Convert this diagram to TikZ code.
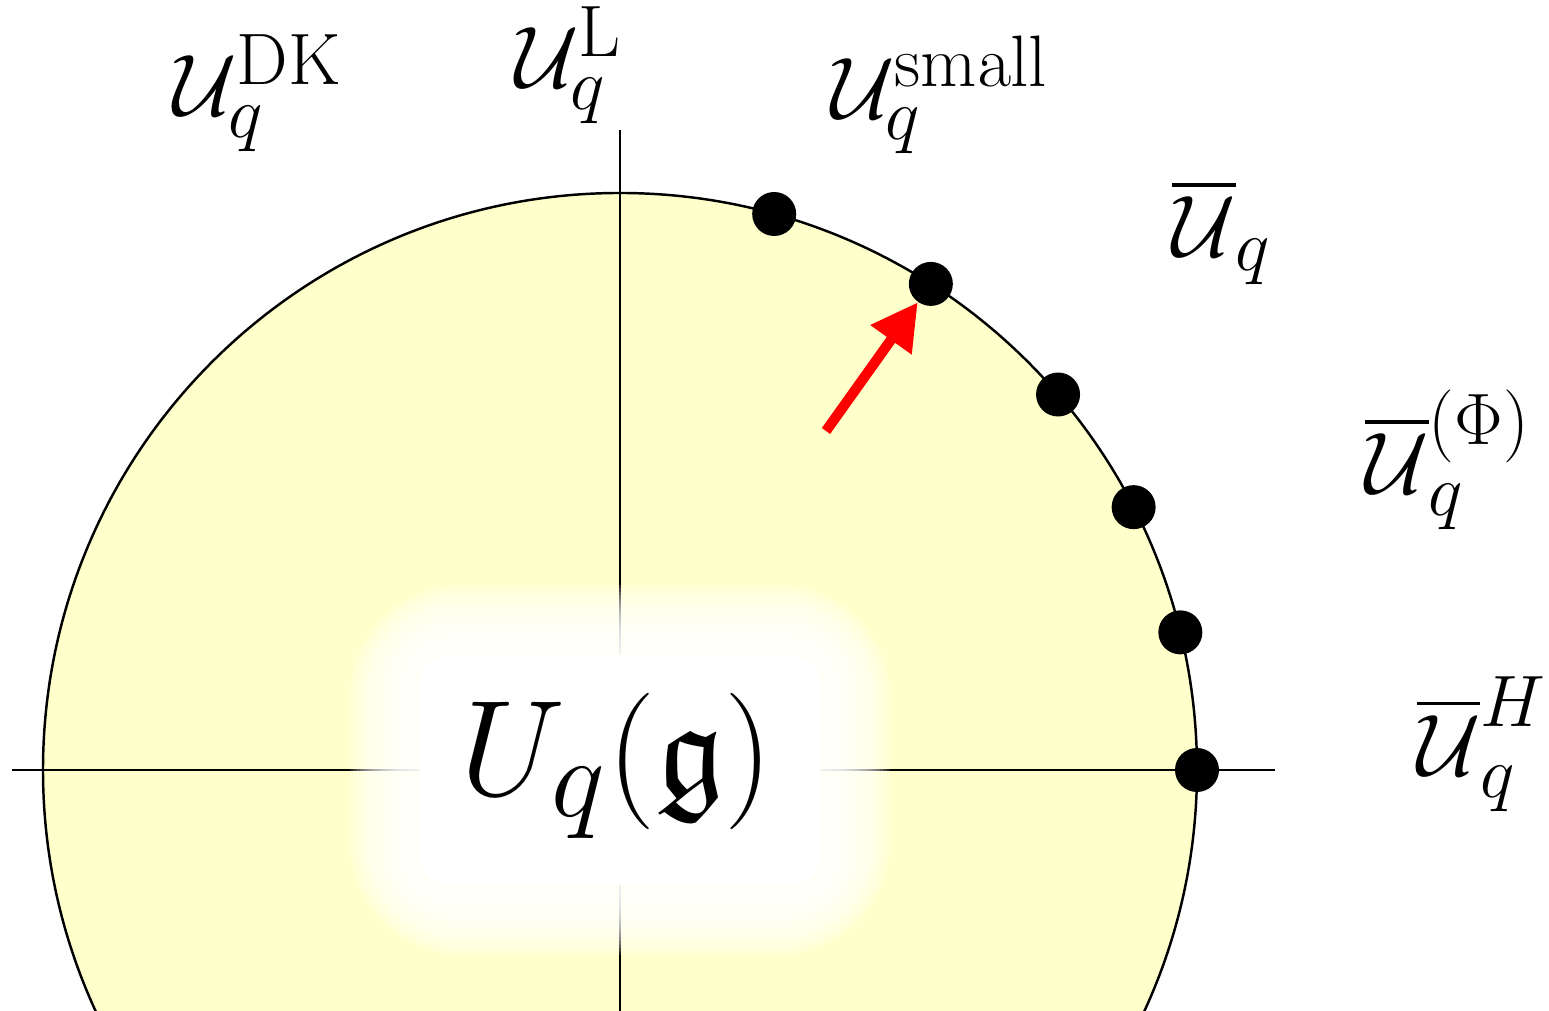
\documentclass[tikz,border=0pt]{standalone}
\usepackage{amsmath,amssymb}
\usetikzlibrary{arrows.meta,calc}
\definecolor{pale}{RGB}{255,255,204}
\tikzset{dot/.style={circle, fill=black, inner sep=0pt, minimum size=4.4mm},
  axis/.style={line width=0.7pt},
  lbl/.style={inner sep=0pt, scale=1.0, font=\Huge},
  ptr/.style={-{Triangle[length=4.6mm,width=4.8mm]}, red, line width=2.9pt}}

\begin{document}
\begin{tikzpicture}
  \useasboundingbox (0,0) rectangle (15.49,10.11);
  \clip (0,0) rectangle (15.49,10.11);
  \coordinate (o) at (6.2,2.41);
  % disc and axes
  \fill[pale] (o) circle (5.77);
  \draw[axis] ($(o)+(-6.08,0)$) -- ($(o)+(6.55,0)$);
  \draw[axis] ($(o)+(0,-2.5)$) -- ($(o)+(0,6.4)$);
  % white glow behind the label
  \foreach \k in {20,...,1}
    \fill[white, opacity=0.14, rounded corners={3mm+\k*0.4mm}]
      ($(o)+(-2.0-\k*0.035,-1.15-\k*0.035)$) rectangle ($(o)+(2.0+\k*0.035,1.15+\k*0.035)$);
  \fill[white, rounded corners=3mm] ($(o)+(-2.0,-1.15)$) rectangle ($(o)+(2.0,1.15)$);
  \draw[axis] (o) circle (5.77);
  % points on the rim
  \node[dot] (d1) at ($(o)+(74.5:5.77)$) {};
  \node[dot] (d2) at ($(o)+(57.4:5.77)$) {};
  \node[dot] (d3) at ($(o)+(40.6:5.77)$) {};
  \node[dot] (d4) at ($(o)+(27.1:5.77)$) {};
  \node[dot] (d5) at ($(o)+(13.8:5.77)$) {};
  \node[dot] (d6) at ($(o)+(0:5.77)$) {};
  \coordinate (tail) at (8.26,5.80);
  \draw[ptr] (tail) -- (d2);
  % labels
  \node[inner sep=0pt, scale=1.56, font=\Huge] (uqg) at (6.17,2.45) {$U_q(\mathfrak{g})$};
  \node[lbl] (dk) at (2.58,9.18) {$\mathcal{U}_q^{\mathrm{DK}}$};
  \node[lbl] (lus) at (5.69,9.46) {$\mathcal{U}_q^{\mathrm{L}}$};
  \node[lbl] (sml) at (9.40,9.16) {$\mathcal{U}_q^{\mathrm{small}}$};
  \node[lbl] (ubar) at (12.22,7.79) {$\overline{\mathcal{U}}_q$};
  \node[lbl] (uphi) at (14.48,5.51) {$\overline{\mathcal{U}}_q^{(\Phi)}$};
  \node[lbl] (uh) at (14.82,2.67) {$\overline{\mathcal{U}}_q^{H}$};
\end{tikzpicture}
\end{document}
